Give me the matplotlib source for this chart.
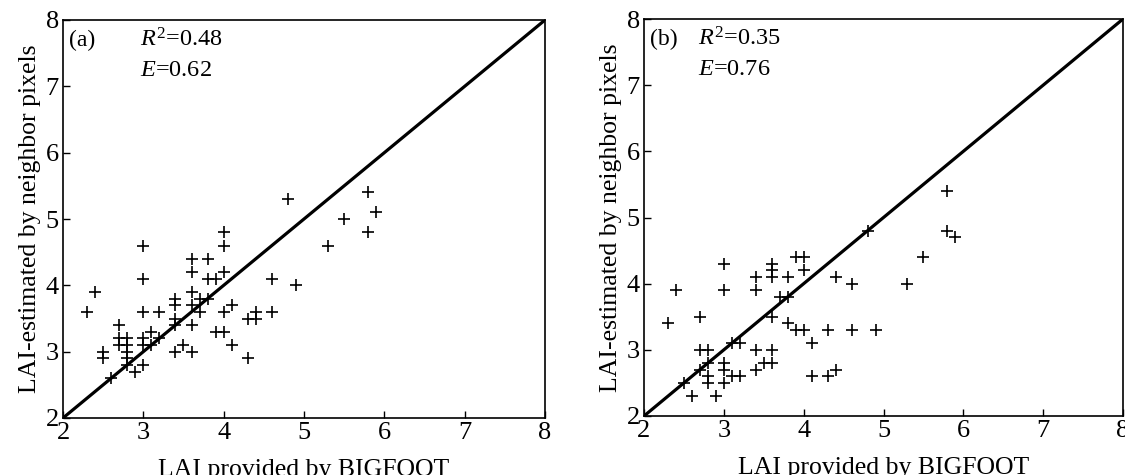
import matplotlib
matplotlib.use("Agg")
import matplotlib.pyplot as plt
import numpy as np

plt.rcParams['font.family'] = ['Liberation Serif', 'DejaVu Serif']
plt.rcParams['mathtext.fontset'] = 'custom'
plt.rcParams['mathtext.rm'] = 'Liberation Serif'
plt.rcParams['mathtext.it'] = 'Liberation Serif:italic'

# Panel (a) data
a_x = [2.3, 2.4, 2.5, 2.5, 2.6, 2.7, 2.7, 2.7, 2.8, 2.8, 2.8, 2.8, 2.8, 2.9,
       3.0, 3.0, 3.0, 3.0, 3.0, 3.0, 3.1, 3.1, 3.2, 3.2, 3.4, 3.4, 3.4, 3.4,
       3.4, 3.5, 3.6, 3.6, 3.6, 3.6, 3.6, 3.6, 3.7, 3.7, 3.8, 3.8, 3.8, 3.9,
       3.9, 4.0, 4.0, 4.0, 4.0, 4.0, 4.1, 4.1, 4.3, 4.3, 4.4, 4.4, 4.6, 4.6,
       4.9, 4.8, 5.3, 5.5, 5.8, 5.8, 5.9]
a_y = [3.6, 3.9, 3.0, 2.9, 2.6, 3.4, 3.2, 3.1, 3.2, 3.1, 3.0, 2.9, 2.8, 2.7,
       2.8, 3.1, 3.2, 3.6, 4.1, 4.6, 3.3, 3.1, 3.2, 3.6, 3.0, 3.4, 3.5, 3.7,
       3.8, 3.1, 3.0, 3.4, 3.7, 3.9, 4.2, 4.4, 3.6, 3.8, 3.8, 4.1, 4.4, 4.1,
       3.3, 3.3, 3.6, 4.2, 4.6, 4.8, 3.7, 3.1, 3.5, 2.9, 3.6, 3.5, 3.6, 4.1,
       4.0, 5.3, 4.6, 5.0, 4.8, 5.4, 5.1]

# Panel (b) data
b_x = [2.3, 2.4, 2.5, 2.6, 2.7, 2.7, 2.7, 2.8, 2.8, 2.8, 2.8, 2.9, 3.0, 3.0,
       3.0, 3.0, 3.0, 3.1, 3.2, 3.1, 3.2, 3.4, 3.4, 3.4, 3.4, 3.5, 3.6, 3.6,
       3.6, 3.6, 3.6, 3.6, 3.7, 3.8, 3.8, 3.8, 3.9, 4.0, 3.9, 4.0, 4.0, 4.1,
       4.1, 4.3, 4.4, 4.3, 4.4, 4.6, 4.6, 4.9, 4.8, 5.3, 5.5, 5.8, 5.8, 5.9]
b_y = [3.4, 3.9, 2.5, 2.3, 3.5, 3.0, 2.7, 3.0, 2.8, 2.6, 2.5, 2.3, 4.3, 3.9,
       2.8, 2.7, 2.5, 3.1, 3.1, 2.6, 2.6, 4.1, 3.9, 3.0, 2.7, 2.8, 2.8, 3.0,
       3.5, 4.1, 4.2, 4.3, 3.8, 3.8, 4.1, 3.4, 3.3, 3.3, 4.4, 4.4, 4.2, 3.1,
       2.6, 2.6, 2.7, 3.3, 4.1, 4.0, 3.3, 3.3, 4.8, 4.0, 4.4, 5.4, 4.8, 4.7]

panels = [
    dict(x=a_x, y=a_y, tag='(a)', r2='0.48', e='0.62',
         rect=[63/1125, 57/475, 482/1125, 398/475], stat_x=0.16),
    dict(x=b_x, y=b_y, tag='(b)', r2='0.35', e='0.76',
         rect=[644/1125, 59/475, 479/1125, 397/475], stat_x=0.113),
]
ticks = [2, 3, 4, 5, 6, 7, 8]
one_to_one = [2, 8]

fig = plt.figure(figsize=(11.25, 4.75), dpi=100)
for p in panels:
    ax = fig.add_axes(p['rect'])
    ax.plot(one_to_one, one_to_one, color='black', lw=2.3, zorder=2)
    ax.plot(p['x'], p['y'], linestyle='none', marker='+', markersize=8,
            markeredgewidth=1.2, color='black', zorder=3)
    ax.set_xlim(2, 8)
    ax.set_ylim(2, 8)
    ax.set_xticks(ticks)
    ax.set_yticks(ticks)
    ax.tick_params(direction='in', length=5, width=1, labelsize=19,
                   top=False, right=False, pad=3)
    for s in ax.spines.values():
        s.set_linewidth(1.2)
    ax.set_xlabel('LAI provided by BIGFOOT', fontsize=18.5, labelpad=11)
    ax.set_ylabel('LAI-estimated by neighbor pixels', fontsize=18.5, labelpad=3)
    ax.text(0.012, 0.975, p['tag'], transform=ax.transAxes, fontsize=17,
            ha='left', va='top')
    ax.text(p['stat_x'], 0.978, r'$R^2$=' + p['r2'], transform=ax.transAxes,
            fontsize=17.5, ha='left', va='top')
    ax.text(p['stat_x'], 0.9, r'$E$=' + p['e'], transform=ax.transAxes,
            fontsize=17.5, ha='left', va='top')

fig.savefig('out.png', dpi=100, facecolor='white')
